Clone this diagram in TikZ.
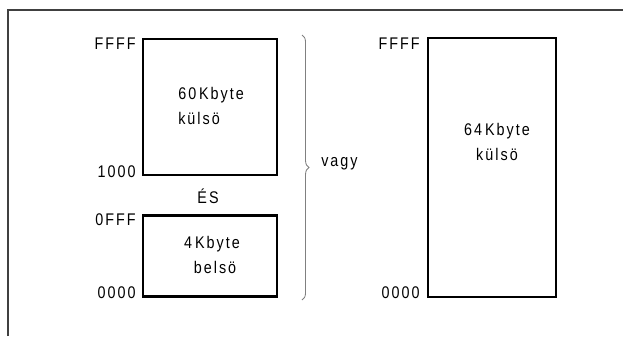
\documentclass[tikz,border=0pt]{standalone}
\usepackage{fontspec}
\setmainfont{Liberation Sans}[LetterSpace=12, FakeStretch=0.85]
\usepackage{tikz}
\usetikzlibrary{positioning, decorations.pathreplacing}

\begin{document}
\begin{tikzpicture}[
  x=0.025cm, y=-0.025cm,
  mem/.style={rectangle, draw=black, line width=2pt, inner sep=0pt},
  addr/.style={anchor=east, font=\fontsize{12}{14}\selectfont, inner sep=0pt},
  txt/.style={font=\fontsize{12}{18}\selectfont, align=center, inner sep=0pt},
  frame/.style={draw=black!75, line width=1pt}
]
\useasboundingbox (0,0) rectangle (623,336);

% --- Frame (top and left edge only) ---
\coordinate (fl) at (8,336);
\coordinate (fc) at (8,10);
\coordinate (fr) at (623,10);
\draw[frame] (fl) -- (fc) -- (fr);

% --- Left: 60K external + 4K internal ---
\node[mem, minimum width=3.35cm, minimum height=3.4cm] (ext60) at (210,107) {};
\node[txt, align=left, anchor=west] at (178,106) {60\,Kbyte\\külsö};
\node[addr] (a60hi) at (136,44) {FFFF};
\node[addr] (a60lo) at (136,172) {1000};

\node[font=\fontsize{12}{14}\selectfont] (es) at (208,196) {ÉS};

\node[mem, minimum width=3.35cm, minimum height=2.03cm] (int4) at (210,256) {};
\node[txt] at (212,255) {4\,Kbyte\\\ belsö};
\node[addr] (a4hi) at (136,220) {0FFF};
\node[addr] (a4lo) at (136,293) {0000};

% --- Brace ---
\coordinate (brtop) at (302,35);
\coordinate (brbot) at (302,300);
\draw[gray, line width=0.6pt, decorate, decoration={brace, amplitude=5pt}] (brtop) -- (brbot);
\node[font=\fontsize{12}{14}\selectfont, anchor=west, inner sep=0pt] (vagy) at (321,164) {vagy};

% --- Right: 64K external ---
\node[mem, minimum width=3.2cm, minimum height=6.475cm] (ext64) at (492,167.5) {};
\node[txt] at (497,142) {64\,Kbyte\\külsö};
\node[addr] (a64hi) at (420,44) {FFFF};
\node[addr] (a64lo) at (420,293) {0000};

\end{tikzpicture}
\end{document}
